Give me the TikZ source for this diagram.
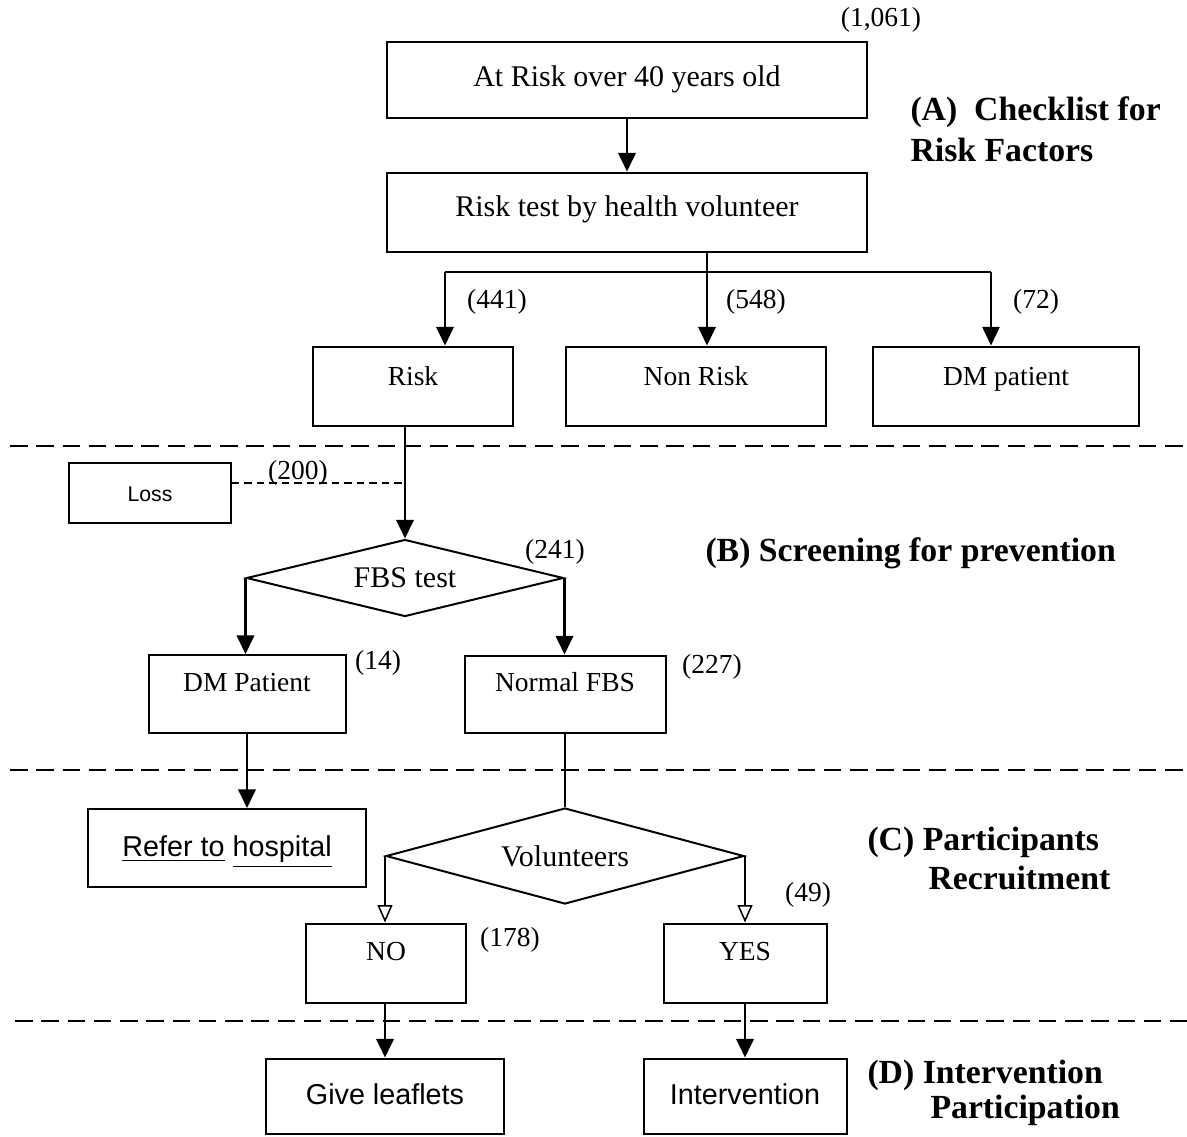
\documentclass[tikz,border=0pt]{standalone}
\usepackage{fontspec}
\setmainfont{Liberation Serif}
\setsansfont{Liberation Sans}
\usetikzlibrary{positioning, shapes.geometric, arrows.meta}

\tikzset{
  box/.style={draw, line width=0.8pt, inner sep=0pt, font=\fontsize{11}{13}\selectfont, text height=1.5ex, text depth=#1},
  box/.default=0pt,
  bigtext/.style={font=\fontsize{12}{14}\selectfont},
  sanstext/.style={font=\sffamily\fontsize{11.5}{13}\selectfont},
  decision/.style={draw, diamond, aspect=4, line width=0.8pt, inner sep=0pt, font=\fontsize{12}{14}\selectfont},
  link/.style={line width=1pt},
  thinlink/.style={line width=0.6pt},
  arr/.style={line width=1pt, -{Triangle[length=7.5pt,width=7pt]}},
  thinarr/.style={line width=0.6pt, -{Triangle[length=7.5pt,width=7pt]}},
  openarr/.style={line width=0.6pt, -{Triangle[open,length=7pt,width=6pt]}},
  sep/.style={line width=0.9pt, dash pattern=on 7pt off 3.5pt},
  lossline/.style={line width=0.5pt, dash pattern=on 3pt off 2pt},
  num/.style={inner sep=0pt, font=\fontsize{11}{13}\selectfont},
  sectionlabel/.style={anchor=west, inner sep=0pt, font=\bfseries\fontsize{13.5}{16}\selectfont}
}

\begin{document}
\begin{tikzpicture}[x=0.4pt, y=-0.4pt]
    \useasboundingbox (0,0) rectangle (1187,1136);

    % Dashed lines between the stages
    \foreach \y/\x in {446/10, 770/10, 1021/15} {
      \draw[sep] (\x,\y) -- (1187,\y);
    }

    % (A) checklist
    \node[box=1.6pt, bigtext, minimum width=192pt, minimum height=30.4pt] (atrisk) at (627,80) {At Risk over 40 years old};
    \node[box=3.2pt, bigtext, minimum width=192pt, minimum height=31.6pt] (risktest) at (627,212) {Risk test by health volunteer};
    \node[box=7.2pt, minimum width=80pt, minimum height=31.6pt] (risk) at (413,386) {Risk};
    \node[box=7.2pt, minimum width=104pt, minimum height=31.6pt] (nonrisk) at (696,386) {Non Risk};
    \node[box=7.2pt, minimum width=106.4pt, minimum height=31.6pt] (dmrisk) at (1006,386) {DM patient};

    % (B) screening
    \node[box, sanstext, font=\sffamily\fontsize{8.5}{10}\selectfont, minimum width=64.4pt, minimum height=24pt] (loss) at (150,493) {Loss};
    \node[decision, minimum width=126.8pt, minimum height=30.8pt] (fbs) at (405,578) {FBS test};
    \node[box=8.8pt, minimum width=78.8pt, minimum height=31.2pt] (dmp) at (247,694) {DM Patient};
    \node[box=9.2pt, minimum width=80.4pt, minimum height=30.8pt] (normal) at (565,694) {Normal FBS};

    % (C) recruitment
    \node[box, sanstext, minimum width=110.8pt, minimum height=31.2pt] (refer) at (227,848) {\underline{Refer to} \underline{hospital}};
    \node[decision, minimum width=143.2pt, minimum height=38.4pt] (vol) at (565,856) {Volunteers};
    \node[box=9.2pt, minimum width=64pt, minimum height=31.6pt] (no) at (386,963) {NO};
    \node[box=9.2pt, minimum width=65.2pt, minimum height=31.6pt] (yes) at (745,963) {YES};

    % (D) intervention
    \node[box, sanstext, minimum width=95.2pt, minimum height=30pt] (give) at (385,1096) {Give leaflets};
    \node[box, sanstext, minimum width=81.2pt, minimum height=30pt] (interv) at (745,1096) {Intervention};

    % Stage titles
    \node[sectionlabel] (titleA) at (910,112) {(A)\ \ Checklist for};
    \node[sectionlabel] (titleA2) at (910,150) {Risk Factors};
    \node[sectionlabel] (titleB) at (705,553) {(B) Screening for prevention};
    \node[sectionlabel] (titleC) at (867,842) {(C) Participants};
    \node[sectionlabel] (titleC2) at (928,878) {Recruitment};
    \node[sectionlabel] (titleD) at (867,1075) {(D) Intervention};
    \node[sectionlabel] (titleD2) at (930,1110) {Participation};

    % Counts
    \foreach \n/\x/\y/\t in {n1061/881/20/{(1,061)}, n441/497/302/{(441)}, n548/756/302/{(548)}, n72/1036/302/{(72)}, n200/298/473/{(200)}, n241/555/552/{(241)}, n14/378/663/{(14)}, n227/712/667/{(227)}, n178/510/940/{(178)}, n49/808/895/{(49)}} {
      \node[num] (\n) at (\x,\y) {\t};
    }

    % Connectors of (A)
    \coordinate (split) at (707,272);
    \coordinate (splitl) at (445,272);
    \coordinate (splitr) at (991,272);
    \draw[arr] (atrisk) -- (risktest);
    \draw[link] (risktest.south -| split) -- (split);
    \draw[link] (splitl) -- (split);
    \draw[thinlink] (split) -- (splitr);
    \draw[arr] (splitl) -- (splitl |- risk.north);
    \draw[arr] (split) -- (split |- nonrisk.north);
    \draw[thinarr] (splitr) -- (splitr |- dmrisk.north);

    % Connectors of (B)
    \coordinate (lossjoin) at (405,483);
    \draw[arr] (risk.south -| fbs.north) -- (fbs.north);
    \draw[lossline] (loss.east |- lossjoin) -- (lossjoin);
    \draw[arr] (fbs.west) -- (fbs.west |- dmp.north);
    \draw[arr] (fbs.east) -- (fbs.east |- normal.north);

    % Connectors of (C) and (D)
    \draw[arr] (dmp.south) -- (dmp.south |- refer.north);
    \draw[link] (normal.south -| vol.north) -- (vol.north);
    \draw[openarr] (vol.west) -- (vol.west |- no.north);
    \draw[openarr] (vol.east) -- (vol.east |- yes.north);
    \draw[arr] (no.south -| give.north) -- (give.north);
    \draw[arr] (yes.south) -- (yes.south |- interv.north);
\end{tikzpicture}
\end{document}
